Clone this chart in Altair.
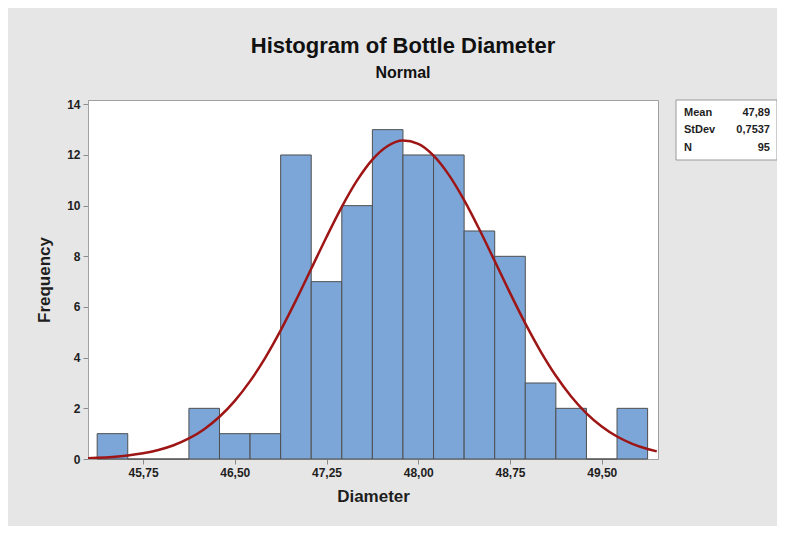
import altair as alt
import pandas as pd

# Histogram bins (bin edges) and frequencies
bin_start = [45.375, 45.625, 45.875, 46.125, 46.375, 46.625, 46.875, 47.125, 47.375,
             47.625, 47.875, 48.125, 48.375, 48.625, 48.875, 49.125, 49.375, 49.625]
bin_end = [45.625, 45.875, 46.125, 46.375, 46.625, 46.875, 47.125, 47.375, 47.625,
           47.875, 48.125, 48.375, 48.625, 48.875, 49.125, 49.375, 49.625, 49.875]
counts = [1, 0, 0, 2, 1, 1, 12, 7, 10, 13, 12, 12, 9, 8, 3, 2, 0, 2]

# Fitted normal curve
curve_x = [45.30, 45.375, 45.50, 45.625, 45.75, 45.875, 46.00, 46.125, 46.25, 46.375,
           46.50, 46.625, 46.75, 46.875, 47.00, 47.125, 47.25, 47.375, 47.50, 47.625,
           47.75, 47.875, 48.00, 48.125, 48.25, 48.375, 48.50, 48.625, 48.75, 48.875,
           49.00, 49.125, 49.25, 49.375, 49.50, 49.625, 49.75, 49.875, 49.95]
curve_y = [0.034, 0.048, 0.082, 0.137, 0.223, 0.353, 0.542, 0.810, 1.178, 1.667,
           2.295, 3.073, 4.004, 5.076, 6.260, 7.510, 8.765, 9.953, 10.995, 11.817,
           12.355, 12.568, 12.437, 11.974, 11.215, 10.219, 9.059, 7.813, 6.556, 5.351,
           4.250, 3.283, 2.468, 1.805, 1.284, 0.888, 0.598, 0.392, 0.300]

x_ticks = [45.75, 46.50, 47.25, 48.00, 48.75, 49.50]
y_ticks = [0, 2, 4, 6, 8, 10, 12, 14]

stat_names = ["Mean", "StDev", "N"]
stat_values = ["47,89", "0,7537", "95"]

FONT = "Liberation Sans"
TXT = "#1e1e1e"

hist_df = pd.DataFrame({"start": bin_start, "end": bin_end, "count": counts})
curve_df = pd.DataFrame({"x": curve_x, "y": curve_y})
stats_df = pd.DataFrame({"name": stat_names, "value": stat_values})

x_scale = alt.Scale(domain=[45.30, 49.96], nice=False, zero=False)
y_scale = alt.Scale(domain=[0, 14.17], nice=False)

x_axis = alt.Axis(values=x_ticks, title="Diameter",
                  labelExpr="replace(format(datum.value, '.2f'), '.', ',')",
                  grid=False, tickSize=5, labelPadding=3, titlePadding=10)
y_axis = alt.Axis(values=y_ticks, title="Frequency", grid=False, tickSize=5,
                  labelPadding=3, titlePadding=13, format="d")

bars = alt.Chart(hist_df).mark_bar(
    fill="#7ca6d8", stroke="#4f4f4f", strokeWidth=1, binSpacing=0
).encode(
    x=alt.X("start:Q", scale=x_scale, axis=x_axis),
    x2="end:Q",
    y=alt.Y("count:Q", scale=y_scale, axis=y_axis),
    y2=alt.datum(0),
)

curve = alt.Chart(curve_df).mark_line(
    color="#9e1515", strokeWidth=2.5, clip=True, interpolate="monotone"
).encode(
    x=alt.X("x:Q", scale=x_scale),
    y=alt.Y("y:Q", scale=y_scale),
)

box = alt.Chart(pd.DataFrame({"k": [0]})).mark_rect(
    fill="white", stroke="#9a9a9a", strokeWidth=1
).encode(
    x=alt.value(588), x2=alt.value(689), y=alt.value(0), y2=alt.value(60)
)

row_y = [13, 30, 48]
stat_layers = []
for i, name in enumerate(stat_names):
    sub = stats_df[stats_df["name"] == name]
    stat_layers.append(
        alt.Chart(sub).mark_text(align="left", baseline="middle", font=FONT,
                                 fontSize=11, fontWeight="bold", color=TXT)
        .encode(text="name:N", x=alt.value(596), y=alt.value(row_y[i]))
    )
    stat_layers.append(
        alt.Chart(sub).mark_text(align="right", baseline="middle", font=FONT,
                                 fontSize=11, fontWeight="bold", color=TXT)
        .encode(text="value:N", x=alt.value(682), y=alt.value(row_y[i]))
    )

chart = alt.layer(bars, curve, box, *stat_layers).properties(
    width=570,
    height=359,
    title=alt.TitleParams(
        text="Histogram of Bottle Diameter",
        subtitle="Normal",
        anchor="middle",
        dx=30,
        offset=16,
        font=FONT, fontSize=22, fontWeight="bold", color="#111111",
        subtitleFont=FONT, subtitleFontSize=16, subtitleFontWeight="bold",
        subtitleColor="#111111", subtitlePadding=7,
    ),
    autosize=alt.AutoSizeParams(type="none"),
    padding={"left": 80, "top": 92, "right": 119, "bottom": 67},
    background="#e6e6e6",
).configure_view(
    fill="white", stroke="#a0a0a0", strokeWidth=1
).configure_axis(
    domainColor="#a0a0a0", tickColor="#8c8c8c",
    labelFont=FONT, labelFontSize=12, labelFontWeight="bold", labelColor=TXT,
    titleFont=FONT, titleFontSize=17, titleFontWeight="bold", titleColor=TXT,
)

chart.save("out.html", embed_options={"renderer": "svg", "actions": False})
